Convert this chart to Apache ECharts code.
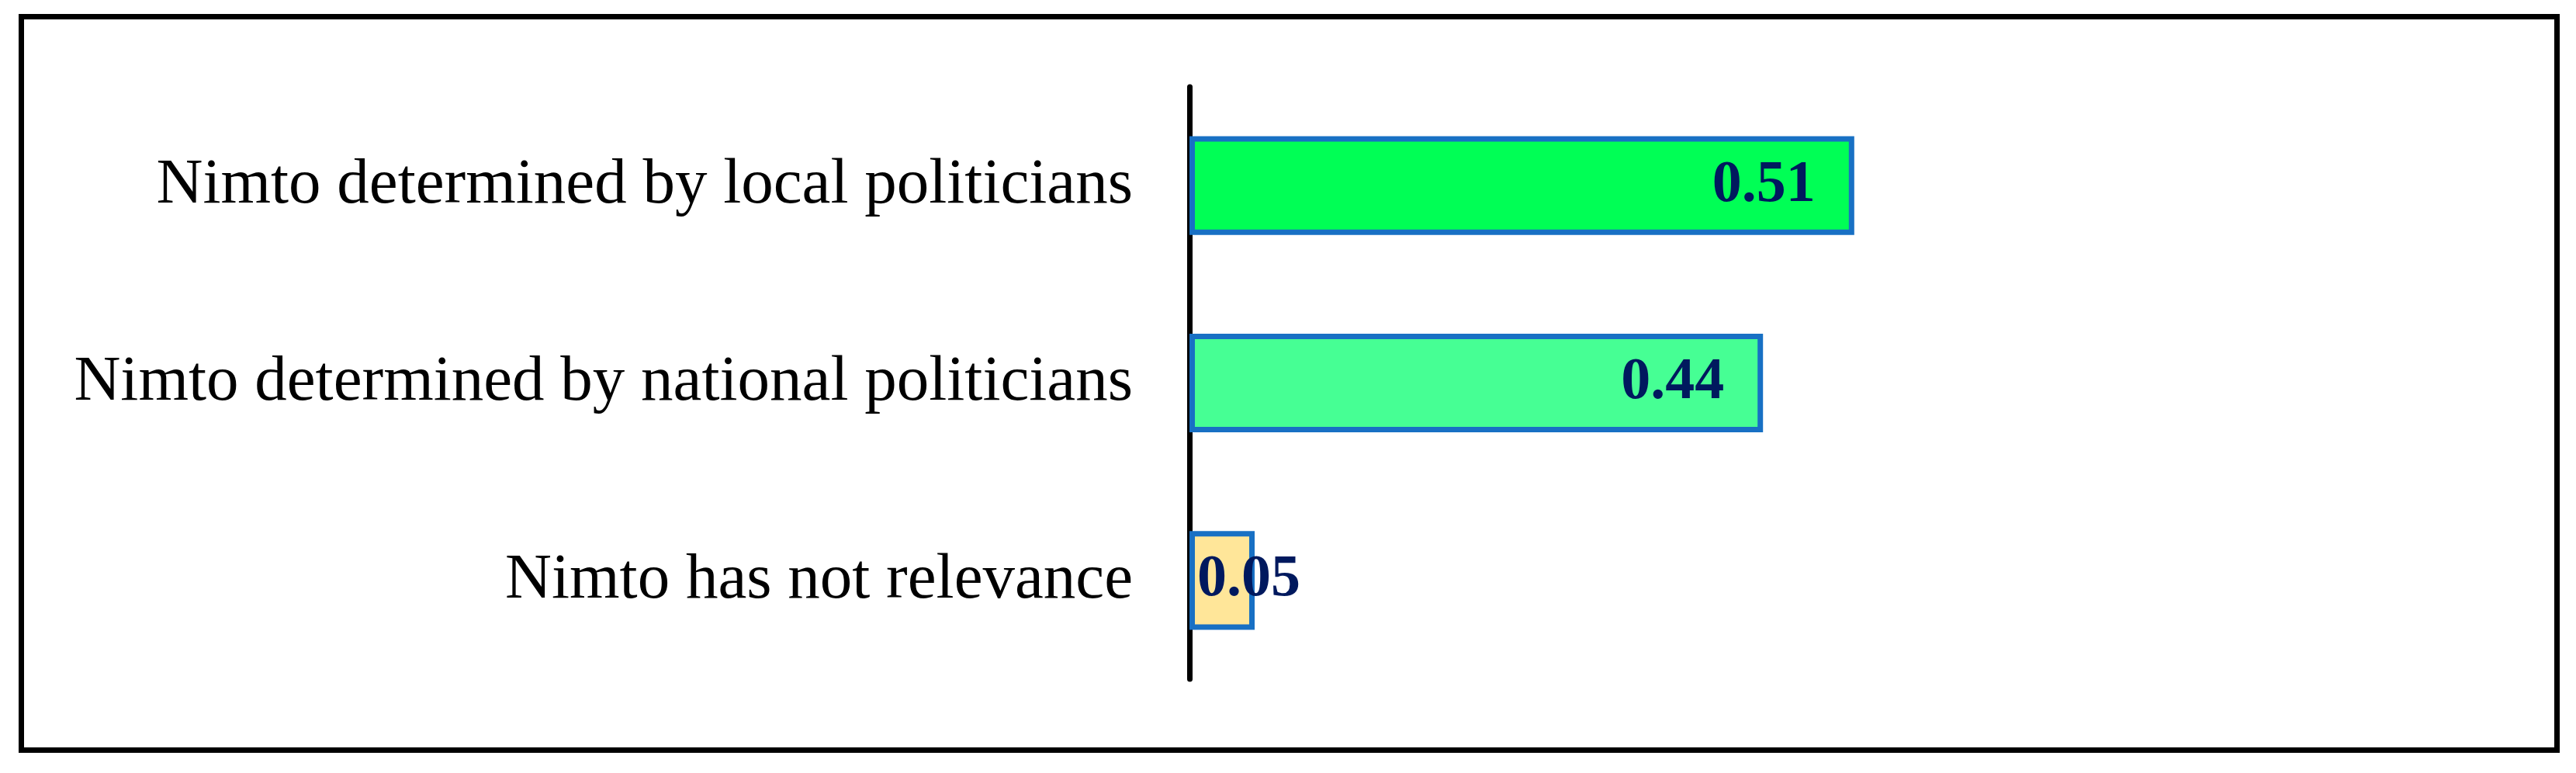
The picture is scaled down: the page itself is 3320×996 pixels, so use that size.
<!DOCTYPE html>
<html>
<head>
<meta charset="utf-8">
<script src="https://cdn.jsdelivr.net/npm/echarts@6/dist/echarts.min.js"></script>
<style>
  html, body {margin: 0; padding: 0; background: #fff;}
  #chart {width: 3320px; height: 996px;}
</style>
</head>
<body>
<div id="chart"></div>
<script>
// data
const categories = [
  'Nimto determined by local politicians',
  'Nimto determined by national politicians',
  'Nimto has not relevance'
];
const shares = [0.51, 0.44, 0.05];
const barColors = ['#00ff55', '#46ff94', '#ffe699'];

const myChart = echarts.init(document.getElementById('chart'));

const labelFont = {
  fontFamily: '"Liberation Serif", serif',
  fontWeight: 'bold',
  fontSize: 76,
  color: '#00195e'
};

myChart.setOption({
  animation: false,
  backgroundColor: '#fff',
  graphic: [{
    type: 'rect',
    shape: {x: 27.5, y: 21.5, width: 3268, height: 945},
    style: {fill: 'none', stroke: '#000', lineWidth: 7},
    silent: true
  }],
  grid: {left: 1533, right: 779, top: 112, bottom: 121, containLabel: false},
  xAxis: {
    type: 'value',
    min: 0,
    max: 0.6,
    show: false,
    splitLine: {show: false}
  },
  yAxis: {
    type: 'category',
    inverse: true,
    data: categories,
    axisTick: {show: false},
    axisLine: {show: true, lineStyle: {color: '#000', width: 7}},
    axisLabel: {
      margin: 73,
      fontFamily: '"Liberation Serif", serif',
      fontSize: 83,
      color: '#000'
    }
  },
  series: [{
    type: 'bar',
    barWidth: '50%',
    data: shares.map((v, i) => ({
      value: v,
      itemStyle: {color: barColors[i]},
      label: i === 2 ? {position: 'insideLeft', distance: 10} : {}
    })),
    itemStyle: {borderColor: '#1870c4', borderWidth: 7},
    label: Object.assign({
      show: true,
      position: 'insideRight',
      distance: 50,
      formatter: p => p.value.toFixed(2)
    }, labelFont)
  }]
});
</script>
</body>
</html>
